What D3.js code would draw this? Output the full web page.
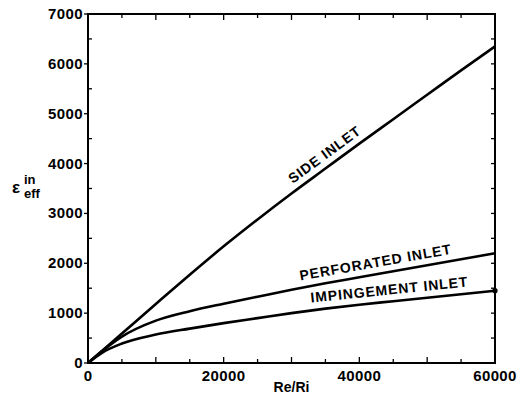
<!DOCTYPE html>
<html>
<head>
<meta charset="utf-8">
<script src="https://cdn.jsdelivr.net/npm/d3@7"></script>
<style>
  body { margin: 0; background: #fff; }
  text { font-family: "Liberation Sans", Arial, sans-serif; font-weight: bold; fill: #000; }
</style>
</head>
<body>
<script>
// Re/Ri values along the x axis
const reRi = [0, 2000, 5000, 10000, 15000, 20000, 25000, 30000, 35000, 40000, 45000, 50000, 55000, 60000];
// effective inlet values per inlet type
const sideInlet = [0, 237, 592, 1184, 1770, 2340, 2880, 3400, 3900, 4400, 4890, 5380, 5870, 6350];
const perforatedInlet = [0, 230, 530, 850, 1040, 1190, 1330, 1470, 1600, 1720, 1840, 1960, 2080, 2200];
const impingementInlet = [0, 200, 390, 570, 690, 800, 900, 1000, 1090, 1170, 1240, 1310, 1380, 1450];
const seriesNames = ["SIDE INLET", "PERFORATED INLET", "IMPINGEMENT INLET"];
const xTickLabels = [0, 20000, 40000, 60000];
const yTickLabels = [0, 1000, 2000, 3000, 4000, 5000, 6000, 7000];

const width = 530, height = 395;
const margin = { top: 14, right: 35, bottom: 32, left: 88 };

const svg = d3.select("body").append("svg")
    .attr("width", width)
    .attr("height", height);

const x = d3.scaleLinear().domain([0, 60000]).range([margin.left, width - margin.right]);
const y = d3.scaleLinear().domain([0, 7000]).range([height - margin.bottom, margin.top]);

// frame ticks
const minorX = d3.range(0, 60001, 5000);
const minorY = d3.range(0, 7001, 500);

const tickG = svg.append("g").attr("stroke", "#000").attr("stroke-width", 1.3);
minorX.forEach(v => {
    const len = v % 10000 === 0 ? 6 : 4;
    tickG.append("line").attr("x1", x(v)).attr("x2", x(v))
        .attr("y1", y(0)).attr("y2", y(0) - len);
    tickG.append("line").attr("x1", x(v)).attr("x2", x(v))
        .attr("y1", y(7000)).attr("y2", y(7000) + len);
});
minorY.forEach(v => {
    if (v % 1000 === 0) {
        tickG.append("line").attr("x1", x(0)).attr("x2", x(0) - 4)
            .attr("y1", y(v)).attr("y2", y(v));
    } else {
        tickG.append("line").attr("x1", x(0)).attr("x2", x(0) + 4)
            .attr("y1", y(v)).attr("y2", y(v));
    }
    tickG.append("line").attr("x1", x(60000)).attr("x2", x(60000) - 4)
        .attr("y1", y(v)).attr("y2", y(v));
});

// frame
svg.append("rect")
    .attr("x", x(0)).attr("y", y(7000))
    .attr("width", x(60000) - x(0)).attr("height", y(0) - y(7000))
    .attr("fill", "none").attr("stroke", "#000").attr("stroke-width", 2);

// tick labels
svg.append("g").selectAll("text")
    .data(yTickLabels)
    .join("text")
    .attr("x", x(0) - 5)
    .attr("y", d => y(d) + 5)
    .attr("text-anchor", "end")
    .attr("font-size", 15)
    .attr("letter-spacing", 0.4)
    .text(d => d);

svg.append("g").selectAll("text")
    .data(xTickLabels)
    .join("text")
    .attr("x", d => x(d))
    .attr("y", y(0) + 18)
    .attr("text-anchor", "middle")
    .attr("font-size", 15)
    .attr("letter-spacing", 0.4)
    .text(d => d);

// axis titles
svg.append("text")
    .attr("x", (x(0) + x(60000)) / 2)
    .attr("y", height - 3)
    .attr("text-anchor", "middle")
    .attr("font-size", 14)
    .text("Re/Ri");

const yt = svg.append("text").attr("x", 12).attr("y", 193).attr("font-size", 17);
yt.append("tspan").text("ε");
yt.append("tspan").attr("x", 24).attr("y", 184).attr("font-size", 13).text("in");
yt.append("tspan").attr("x", 24).attr("y", 198).attr("font-size", 13).text("eff");

// curves
const line = d3.line()
    .x((d, i) => x(reRi[i]))
    .y(d => y(d))
    .curve(d3.curveMonotoneX);

const allSeries = [sideInlet, perforatedInlet, impingementInlet];
allSeries.forEach(s => {
    svg.append("path")
        .attr("d", line(s))
        .attr("fill", "none")
        .attr("stroke", "#000")
        .attr("stroke-width", 2.6);
});

// small end mark on the impingement curve
svg.append("circle")
    .attr("cx", x(reRi[reRi.length - 1]))
    .attr("cy", y(impingementInlet[impingementInlet.length - 1]))
    .attr("r", 2.6)
    .attr("fill", "#000");

// curve labels, placed along each curve
const labelPos = [
    { v: 35900, off: -7 },
    { v: 42700, off: -7 },
    { v: 44600, off: -7 }
];
labelPos.forEach((p, k) => {
    const s = allSeries[k];
    const i = reRi.findIndex(r => r >= p.v);
    const x0 = x(reRi[i - 1]), x1 = x(reRi[i]);
    const y0 = y(s[i - 1]), y1 = y(s[i]);
    const t = (x(p.v) - x0) / (x1 - x0);
    const px = x0 + t * (x1 - x0);
    const py = y0 + t * (y1 - y0);
    const ang = Math.atan2(y1 - y0, x1 - x0) * 180 / Math.PI;
    svg.append("text")
        .attr("transform", `translate(${px},${py}) rotate(${ang}) translate(0,${p.off})`)
        .attr("text-anchor", "middle")
        .attr("font-size", 14)
        .attr("letter-spacing", 0.9)
        .text(seriesNames[k]);
});
</script>
</body>
</html>
